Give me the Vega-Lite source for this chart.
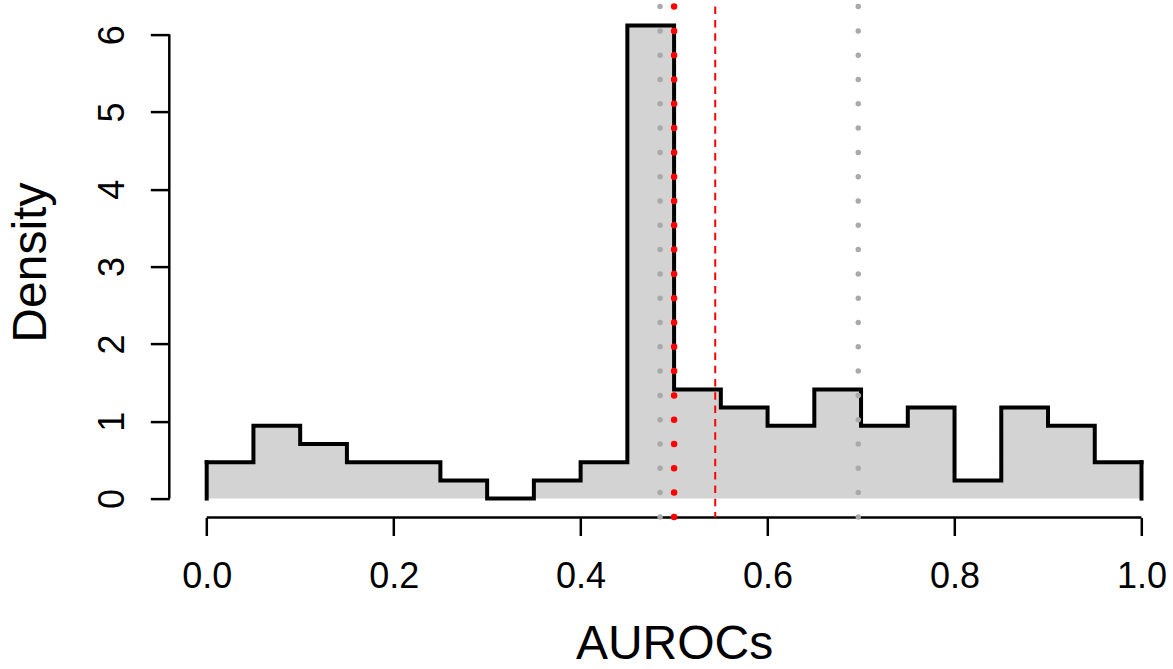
{
  "$schema": "https://vega.github.io/schema/vega-lite/v6.json",
  "width": 1003.7,
  "height": 510.9,
  "autosize": {"type": "none"},
  "padding": {"left": 169.3, "top": 6.6, "right": 0, "bottom": 151.5},
  "background": "white",
  "config": {"view": {"stroke": null}, "font": "Liberation Sans"},
  "datasets": {
    "bins": [
      {"i": 1, "x0": 0.00, "x1": 0.05, "density": 0.4706},
      {"i": 2, "x0": 0.05, "x1": 0.10, "density": 0.9412},
      {"i": 3, "x0": 0.10, "x1": 0.15, "density": 0.7059},
      {"i": 4, "x0": 0.15, "x1": 0.20, "density": 0.4706},
      {"i": 5, "x0": 0.20, "x1": 0.25, "density": 0.4706},
      {"i": 6, "x0": 0.25, "x1": 0.30, "density": 0.2353},
      {"i": 7, "x0": 0.30, "x1": 0.35, "density": 0.0},
      {"i": 8, "x0": 0.35, "x1": 0.40, "density": 0.2353},
      {"i": 9, "x0": 0.40, "x1": 0.45, "density": 0.4706},
      {"i": 10, "x0": 0.45, "x1": 0.50, "density": 6.1176},
      {"i": 11, "x0": 0.50, "x1": 0.55, "density": 1.4118},
      {"i": 12, "x0": 0.55, "x1": 0.60, "density": 1.1765},
      {"i": 13, "x0": 0.60, "x1": 0.65, "density": 0.9412},
      {"i": 14, "x0": 0.65, "x1": 0.70, "density": 1.4118},
      {"i": 15, "x0": 0.70, "x1": 0.75, "density": 0.9412},
      {"i": 16, "x0": 0.75, "x1": 0.80, "density": 1.1765},
      {"i": 17, "x0": 0.80, "x1": 0.85, "density": 0.2353},
      {"i": 18, "x0": 0.85, "x1": 0.90, "density": 1.1765},
      {"i": 19, "x0": 0.90, "x1": 0.95, "density": 0.9412},
      {"i": 20, "x0": 0.95, "x1": 1.00, "density": 0.4706}
    ],
    "refs": [
      {"stat": "Q1", "value": 0.485},
      {"stat": "median", "value": 0.5},
      {"stat": "mean", "value": 0.544},
      {"stat": "Q3", "value": 0.697}
    ],
    "axisline": [{"from": 0, "to": 1, "ymin": 0, "ymax": 6}]
  },
  "layer": [
    {
      "data": {"name": "bins"},
      "transform": [{"fold": ["x0", "x1"], "as": ["edge", "pos"]}],
      "mark": {"type": "area", "color": "#D3D3D3", "interpolate": "linear"},
      "encoding": {
        "x": {
          "field": "pos", "type": "quantitative",
          "scale": {"domain": [-0.04, 1.0337], "nice": false, "zero": false},
          "axis": {
            "title": "AUROCs", "domain": false, "grid": false,
            "values": [0, 0.2, 0.4, 0.6, 0.8, 1.0], "format": ".1f",
            "tickSize": 18, "tickWidth": 2.5, "tickColor": "black",
            "labelFontSize": 36, "labelColor": "black", "labelFont": "Liberation Sans",
            "labelPadding": 23.5, "labelBaseline": "top", "labelFlush": false, "labelOverlap": false,
            "titleFontSize": 48, "titleFontWeight": "normal", "titleColor": "black", "titleFont": "Liberation Sans",
            "titleBaseline": "alphabetic", "titleAlign": "center", "titleX": 504.8, "titleY": 141
          }
        },
        "y": {
          "field": "density", "type": "quantitative",
          "scale": {"domain": [-0.2447, 6.3623], "nice": false, "zero": false},
          "axis": {
            "title": "Density", "domain": false, "grid": false,
            "values": [0, 1, 2, 3, 4, 5, 6], "format": "d",
            "tickSize": 19, "tickWidth": 2.5, "tickColor": "black",
            "labelFontSize": 36, "labelColor": "black", "labelFont": "Liberation Sans",
            "labelAngle": 270, "labelAlign": "center", "labelBaseline": "alphabetic",
            "labelPadding": 27, "labelOverlap": false,
            "titleFontSize": 48, "titleFontWeight": "normal", "titleColor": "black", "titleFont": "Liberation Sans",
            "titleAngle": 270, "titleBaseline": "alphabetic", "titleAlign": "center",
            "titleX": -123.6, "titleY": 255.5
          }
        },
        "y2": {"datum": 0},
        "order": [{"field": "i"}, {"field": "edge"}]
      }
    },
    {
      "data": {"name": "bins"},
      "transform": [{"fold": ["x0", "x1"], "as": ["edge", "pos"]}],
      "mark": {"type": "line", "color": "black", "strokeWidth": 4, "strokeJoin": "miter", "strokeCap": "square"},
      "encoding": {
        "x": {"field": "pos", "type": "quantitative"},
        "y": {"field": "density", "type": "quantitative"},
        "order": [{"field": "i"}, {"field": "edge"}]
      }
    },
    {
      "data": {"name": "bins"},
      "transform": [{"filter": "datum.x0 == 0"}],
      "mark": {"type": "rule", "color": "black", "strokeWidth": 4, "strokeCap": "square"},
      "encoding": {
        "x": {"field": "x0", "type": "quantitative"},
        "y": {"field": "density", "type": "quantitative"},
        "y2": {"datum": 0}
      }
    },
    {
      "data": {"name": "bins"},
      "transform": [{"filter": "datum.x1 == 1"}],
      "mark": {"type": "rule", "color": "black", "strokeWidth": 4, "strokeCap": "square"},
      "encoding": {
        "x": {"field": "x1", "type": "quantitative"},
        "y": {"field": "density", "type": "quantitative"},
        "y2": {"datum": 0}
      }
    },
    {
      "data": {"name": "axisline"},
      "mark": {"type": "rule", "color": "black", "strokeWidth": 2.5},
      "encoding": {
        "x": {"field": "from", "type": "quantitative"},
        "x2": {"field": "to"},
        "y": {"datum": -0.2447}
      }
    },
    {
      "data": {"name": "axisline"},
      "mark": {"type": "rule", "color": "black", "strokeWidth": 2.5},
      "encoding": {
        "x": {"datum": -0.04},
        "y": {"field": "ymin", "type": "quantitative"},
        "y2": {"field": "ymax"}
      }
    },
    {
      "data": {"name": "refs"},
      "transform": [{"filter": "datum.stat == 'Q1' || datum.stat == 'Q3'"}],
      "mark": {"type": "rule", "color": "#A9A9A9", "strokeWidth": 5.5, "strokeCap": "round", "strokeDash": [0, 24.3]},
      "encoding": {"x": {"field": "value", "type": "quantitative"}}
    },
    {
      "data": {"name": "refs"},
      "transform": [{"filter": "datum.stat == 'median'"}],
      "mark": {"type": "rule", "color": "#FF0000", "strokeWidth": 6.5, "strokeCap": "round", "strokeDash": [0, 24.3]},
      "encoding": {"x": {"field": "value", "type": "quantitative"}}
    },
    {
      "data": {"name": "refs"},
      "transform": [{"filter": "datum.stat == 'mean'"}],
      "mark": {"type": "rule", "color": "#FF0000", "strokeWidth": 2, "strokeCap": "butt", "strokeDash": [7.5, 5.8]},
      "encoding": {"x": {"field": "value", "type": "quantitative"}}
    }
  ]
}
